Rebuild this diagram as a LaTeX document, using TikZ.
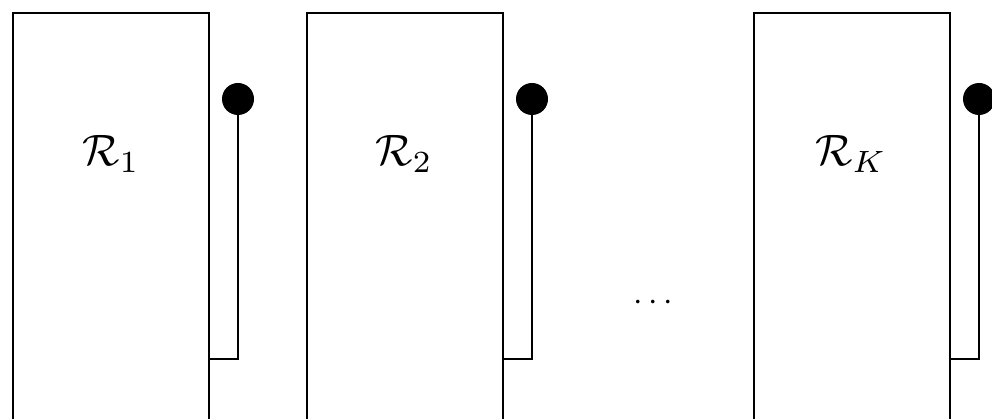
\documentclass[tikz,border=0pt]{standalone}
\usepackage{amsmath}
\begin{document}
\begin{tikzpicture}[x=1pt,y=-1pt,
  unit/.style={draw=black,line width=1.6pt,minimum width=196pt,minimum height=430pt,inner sep=0pt,anchor=north west},
  ant/.style={circle,fill=black,minimum size=32pt,inner sep=0pt},
  feed/.style={draw=black,line width=1.3pt},
  lbl/.style={scale=4.4,inner sep=0pt}]
\useasboundingbox (0,0) rectangle (992,419);
\clip (0,0) rectangle (992,419);
\node[unit] (r1) at (12,12) {};
\node[unit] (r2) at (306,12) {};
\node[unit] (r3) at (753,12) {};
\node[lbl] (l1) at (111,154) {$\mathcal{R}_1$};
\node[lbl] (l2) at (404,154) {$\mathcal{R}_2$};
\node[lbl] (l3) at (851,154) {$\mathcal{R}_K$};
\node[ant] (a1) at (238,99) {};
\node[ant] (a2) at (532,99) {};
\node[ant] (a3) at (979,99) {};
\coordinate (f1) at (r1.east |- 0,359);
\coordinate (f2) at (r2.east |- 0,359);
\coordinate (f3) at (r3.east |- 0,359);
\draw[feed] (f1) -| (a1.center);
\draw[feed] (f2) -| (a2.center);
\draw[feed] (f3) -| (a3.center);
\node[scale=3.4,inner sep=0pt] (dots) at (656,303) {$\cdots$};
\end{tikzpicture}
\end{document}
